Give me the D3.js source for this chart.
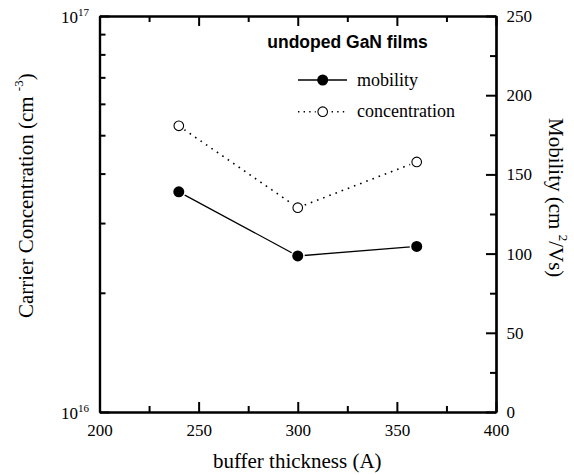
<!DOCTYPE html>
<html>
<head>
<meta charset="utf-8">
<script src="https://cdn.jsdelivr.net/npm/d3@7"></script>
<style>
  html, body { margin: 0; padding: 0; background: #fff; }
  svg { display: block; }
</style>
</head>
<body>
<svg id="chart" width="574" height="475"></svg>
<script>
// Buffer thickness (A) for each grown film
const thickness = [240, 300, 360];
// Hall mobility (cm^2/Vs), right axis
const mobility = [139, 98.5, 104.5];
// Carrier concentration (cm^-3), left log axis
const concentration = [5.28e16, 3.28e16, 4.28e16];

const xTicks = [200, 250, 300, 350, 400];
const xMinor = [225, 275, 325, 375];
const mobTicks = [0, 50, 100, 150, 200, 250];
const mobMinor = [25, 75, 125, 175, 225];
const concTicks = [1e16, 1e17];
const concMinor = [2e16, 3e16, 4e16, 5e16, 6e16, 7e16, 8e16, 9e16];

const seriesNames = ["mobility", "concentration"];
const panelTitle = "undoped GaN films";

const SERIF = "'Liberation Serif', 'Times New Roman', serif";
const SANS = "'Liberation Sans', Arial, sans-serif";

const L = 99.5, R = 496, T = 16, B = 412;
const svg = d3.select("#chart");

const x = d3.scaleLinear().domain([200, 400]).range([L, R]);
const yC = d3.scaleLog().domain([1e16, 1e17]).range([B, T]);
const yM = d3.scaleLinear().domain([0, 250]).range([B, T]);

function styleAxis(g) {
  g.select(".domain").attr("stroke-width", 2.2).attr("stroke", "#000");
  g.selectAll(".tick line").attr("stroke-width", 2).attr("stroke", "#000");
  g.selectAll(".tick text").style("font-size", "17px").style("font-family", SERIF).attr("fill", "#000");
}

// bottom axis
svg.append("g").attr("transform", `translate(0,${B})`)
  .call(d3.axisBottom(x).tickValues(xMinor).tickSizeInner(-6).tickSizeOuter(0).tickFormat(""))
  .call(styleAxis);
svg.append("g").attr("transform", `translate(0,${B})`)
  .call(d3.axisBottom(x).tickValues(xTicks).tickSizeInner(-10).tickSizeOuter(0).tickPadding(11.5).tickFormat(d3.format("d")))
  .call(styleAxis);

// top axis
svg.append("g").attr("transform", `translate(0,${T})`)
  .call(d3.axisTop(x).tickValues(xMinor).tickSizeInner(-6).tickSizeOuter(0).tickFormat(""))
  .call(styleAxis);
svg.append("g").attr("transform", `translate(0,${T})`)
  .call(d3.axisTop(x).tickValues(xTicks).tickSizeInner(-10).tickSizeOuter(0).tickFormat(""))
  .call(styleAxis);

// left log axis (concentration)
svg.append("g").attr("transform", `translate(${L},0)`)
  .call(d3.axisLeft(yC).tickValues(concMinor).tickSizeInner(-6).tickSizeOuter(0).tickFormat(""))
  .call(styleAxis);
const leftAxis = svg.append("g").attr("transform", `translate(${L},0)`)
  .call(d3.axisLeft(yC).tickValues(concTicks).tickSizeInner(-10).tickSizeOuter(0).tickPadding(10.5).tickFormat(""))
  .call(styleAxis);
leftAxis.selectAll(".tick text").each(function(d) {
  const t = d3.select(this).attr("dy", "0.4em");
  t.append("tspan").text("10");
  t.append("tspan").style("font-size", "11px").attr("dy", -7).text(Math.round(Math.log10(d)));
});

// right axis (mobility)
svg.append("g").attr("transform", `translate(${R},0)`)
  .call(d3.axisRight(yM).tickValues(mobMinor).tickSizeInner(-6).tickSizeOuter(0).tickFormat(""))
  .call(styleAxis);
svg.append("g").attr("transform", `translate(${R},0)`)
  .call(d3.axisRight(yM).tickValues(mobTicks).tickSizeInner(-10).tickSizeOuter(0).tickPadding(10.5).tickFormat(d3.format("d")))
  .call(styleAxis);

// axis titles
svg.append("text").attr("x", (L + R) / 2 - 0.5).attr("y", 468)
  .attr("text-anchor", "middle").style("font-family", SERIF).style("font-size", "21px")
  .text("buffer thickness (A)");

const leftTitle = svg.append("text")
  .attr("transform", "translate(33,318) rotate(-90)")
  .style("font-family", SERIF).style("font-size", "21px");
leftTitle.append("tspan").text("Carrier Concentration (cm ");
leftTitle.append("tspan").style("font-size", "13px").attr("dy", -10).text("-3");
leftTitle.append("tspan").attr("dy", 10).text(")");

const rightTitle = svg.append("text")
  .attr("transform", "translate(549,118) rotate(90)")
  .style("font-family", SERIF).style("font-size", "21px");
rightTitle.append("tspan").text("Mobility (cm ");
rightTitle.append("tspan").style("font-size", "13px").attr("dy", -10).text("2");
rightTitle.append("tspan").attr("dy", 10).text("/Vs)");

// data series
const plot = svg.append("g");
const mobPts = thickness.map((t, i) => [x(t), yM(mobility[i])]);
const concPts = thickness.map((t, i) => [x(t), yC(concentration[i])]);
const line = d3.line();

plot.append("path").attr("d", line(concPts))
  .attr("fill", "none").attr("stroke", "#000").attr("stroke-width", 1.6)
  .attr("stroke-dasharray", "1.6,5");
plot.append("path").attr("d", line(mobPts))
  .attr("fill", "none").attr("stroke", "#000").attr("stroke-width", 1.3);

// white halos leave a small gap where lines meet markers
plot.selectAll(".halo").data(mobPts.concat(concPts)).join("circle")
  .attr("cx", d => d[0]).attr("cy", d => d[1]).attr("r", 7).attr("fill", "#fff");

plot.selectAll(".mob").data(mobPts).join("circle")
  .attr("cx", d => d[0]).attr("cy", d => d[1]).attr("r", 5.5).attr("fill", "#000");
plot.selectAll(".conc").data(concPts).join("circle")
  .attr("cx", d => d[0]).attr("cy", d => d[1]).attr("r", 4.8)
  .attr("fill", "#fff").attr("stroke", "#000").attr("stroke-width", 1.1);

// panel title and legend
svg.append("text").attr("x", 347.5).attr("y", 48.3).attr("text-anchor", "middle")
  .style("font-family", SANS).style("font-weight", "bold").style("font-size", "17.5px")
  .text(panelTitle);

const leg = svg.append("g");
const lx0 = 298, lx1 = 347, lmx = 322.7;
const rows = [80, 111.7];
// mobility entry
leg.append("line").attr("x1", lx0).attr("x2", lx1).attr("y1", rows[0]).attr("y2", rows[0])
  .attr("stroke", "#000").attr("stroke-width", 1.3);
leg.append("circle").attr("cx", lmx).attr("cy", rows[0]).attr("r", 5.5).attr("fill", "#000");
leg.append("text").attr("x", 357).attr("y", rows[0] + 5.5)
  .style("font-family", SERIF).style("font-size", "18px").text(seriesNames[0]);
// concentration entry
leg.append("line").attr("x1", lx0).attr("x2", lx1).attr("y1", rows[1]).attr("y2", rows[1])
  .attr("stroke", "#000").attr("stroke-width", 1.4).attr("stroke-dasharray", "1.4,4.2");
leg.append("circle").attr("cx", lmx).attr("cy", rows[1]).attr("r", 7).attr("fill", "#fff");
leg.append("circle").attr("cx", lmx).attr("cy", rows[1]).attr("r", 4.8)
  .attr("fill", "#fff").attr("stroke", "#000").attr("stroke-width", 1.1);
leg.append("text").attr("x", 357).attr("y", rows[1] + 5.5)
  .style("font-family", SERIF).style("font-size", "18px").text(seriesNames[1]);
</script>
</body>
</html>
